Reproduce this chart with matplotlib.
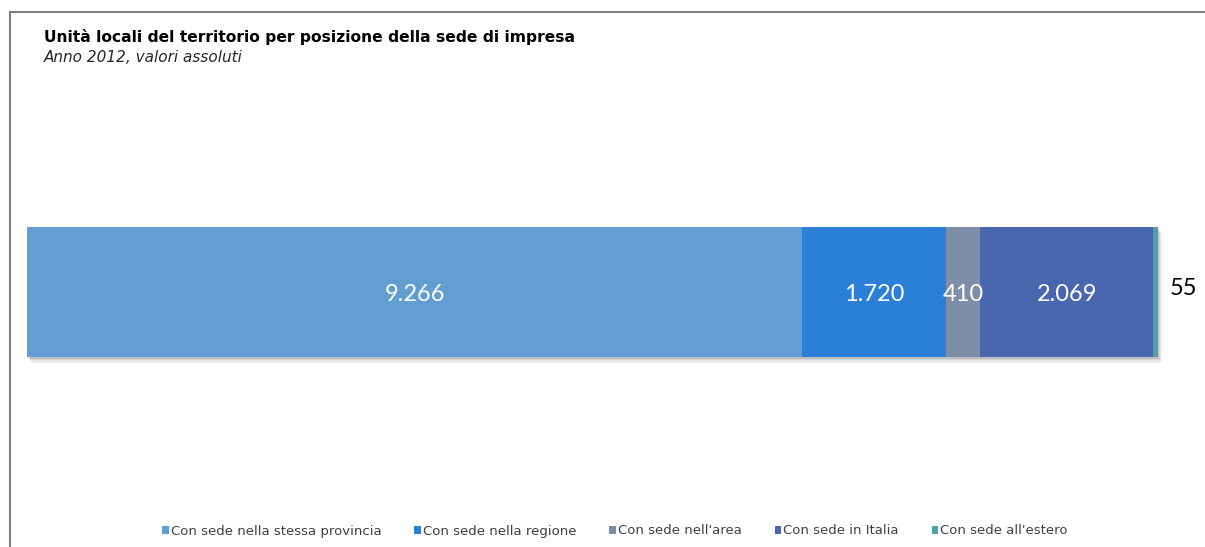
import matplotlib.pyplot as plt
from matplotlib.lines import Line2D
from matplotlib.patches import Rectangle

categories = ["Con sede nella stessa provincia", "Con sede nella regione",
              "Con sede nell'area", "Con sede in Italia", "Con sede all'estero"]
values = [9266, 1720, 410, 2069, 55]
labels = ["9.266", "1.720", "410", "2.069", "55"]
colors = ["#629ED2", "#2B7FD6", "#7F8EA8", "#4967AE", "#4BA3A8"]

plt.rcParams['font.family'] = ['DejaVu Sans']

W, H = 1205, 547
fig = plt.figure(figsize=(W / 100, H / 100), dpi=100)

# frame lines at top and left
fig.add_artist(Line2D([10 / W, 1.0], [1 - 12 / H, 1 - 12 / H], color="#7f7f7f", lw=1.5))
fig.add_artist(Line2D([10 / W, 10 / W], [0, 1 - 12 / H], color="#7f7f7f", lw=1.5))

total = sum(values)
ax = fig.add_axes([27 / W, 1 - 357 / H, 1131 / W, 130 / H])
ax.set_xlim(0, total)
ax.set_ylim(-0.5, 0.5)
ax.axis("off")

# soft drop shadow under the bar
for i, a in enumerate([0.10, 0.08, 0.06, 0.04]):
    ax.add_patch(Rectangle((total * 0.0008 * (i + 1), -0.5 - 0.012 * (i + 1)),
                           total, 1.0, color="#000000", alpha=a, lw=0,
                           clip_on=False, zorder=0))

num_font = ['Lato', 'DejaVu Sans']
left = 0
for v, lab, c, name in zip(values, labels, colors, categories):
    ax.barh(0, v, left=left, height=1.0, color=c, label=name, zorder=2)
    if v > 300:
        ax.text(left + v / 2, -0.02, lab, color="white", ha="center", va="center",
                fontsize=17, family=num_font, zorder=3)
    else:
        ax.text(total + total * 0.0225, 0.03, lab, color="black", ha="center",
                va="center", fontsize=17, family=num_font, zorder=3)
    left += v

fig.text(44 / W, 1 - 37 / H, "Unità locali del territorio per posizione della sede di impresa",
         fontsize=11.2, fontweight="bold", ha="left", va="center", color="black")
fig.text(44 / W, 1 - 58 / H, "Anno 2012, valori assoluti",
         fontsize=11, fontstyle="italic", ha="left", va="center", color="#262626")

handles, labs = ax.get_legend_handles_labels()
fig.legend(handles, labs, loc="center", bbox_to_anchor=(615 / W, 1 - 531 / H),
           ncol=5, frameon=False, fontsize=9.5, handlelength=0.5, handleheight=0.5,
           handletextpad=0.15, columnspacing=2.5, labelcolor="#404040")

fig.savefig("out.png", dpi=100)
